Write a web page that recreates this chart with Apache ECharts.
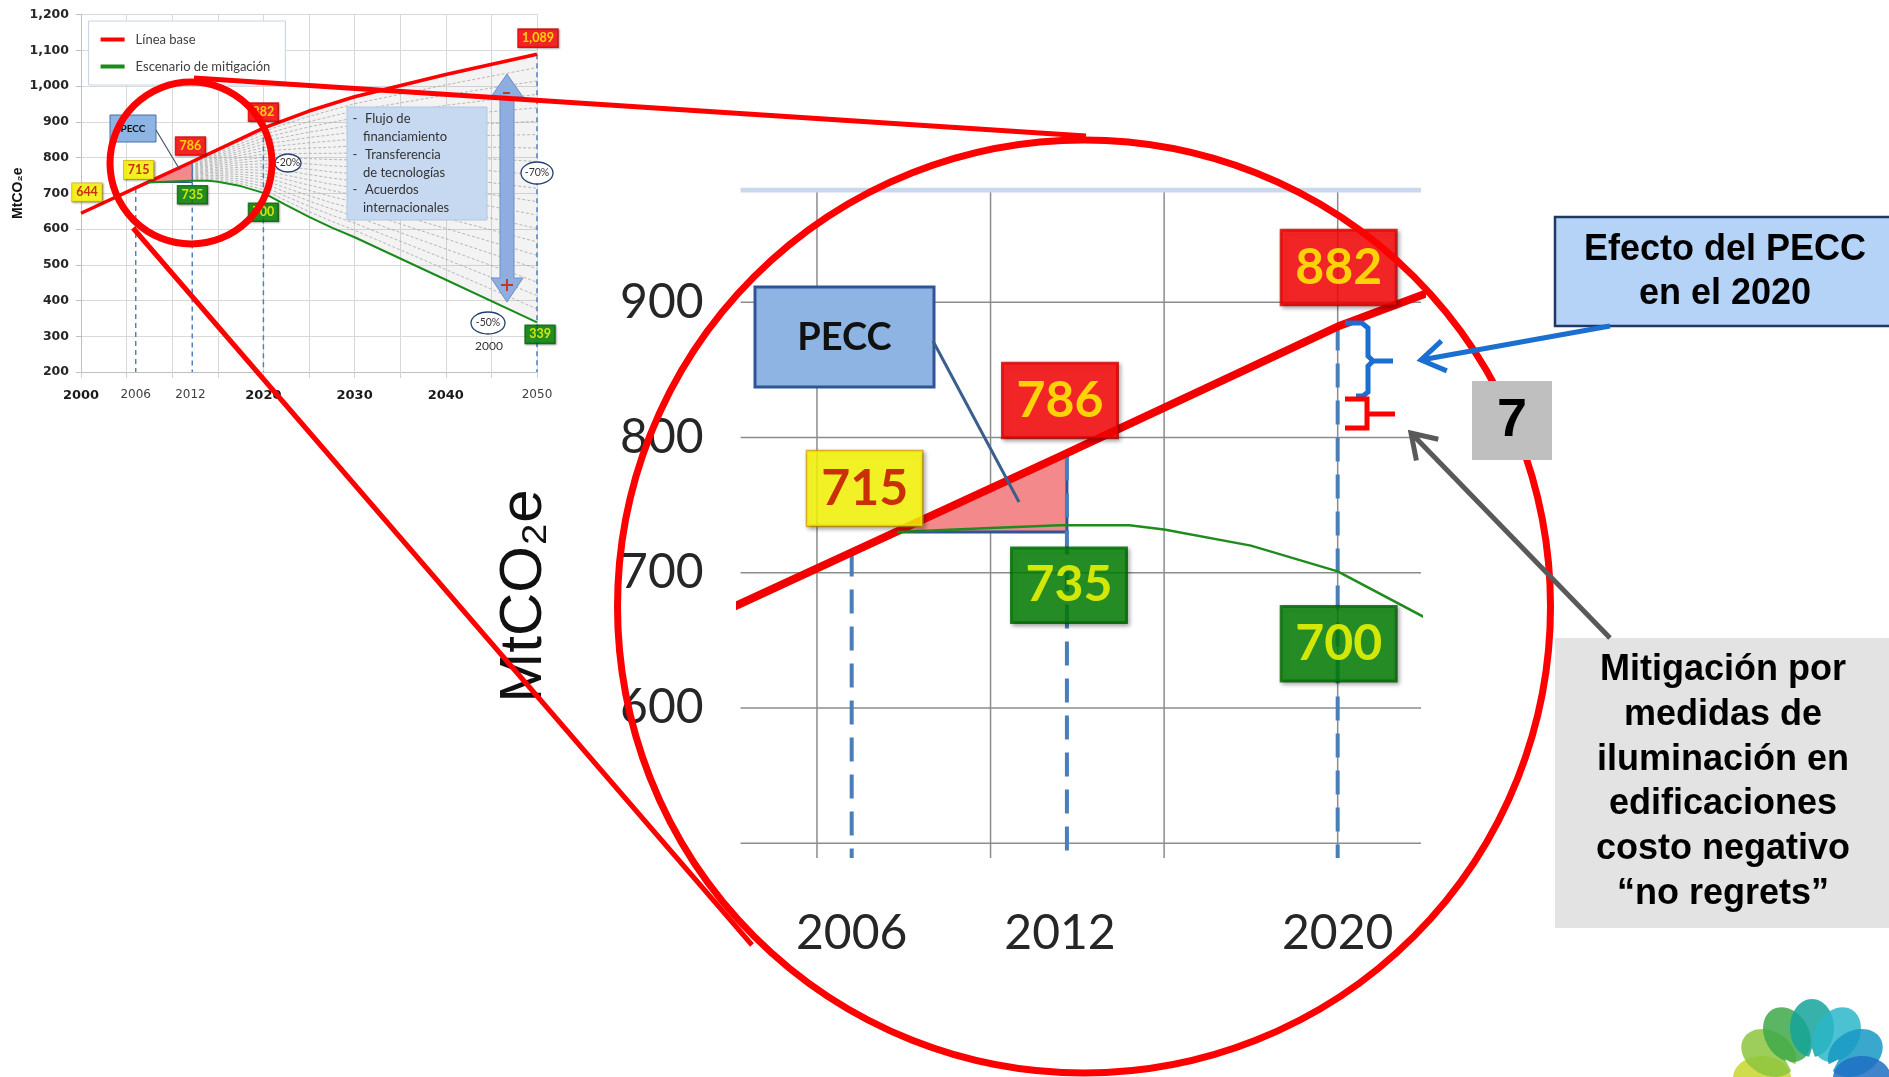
<!DOCTYPE html>
<html><head><meta charset="utf-8">
<script src="https://cdn.jsdelivr.net/npm/echarts@6/dist/echarts.min.js"></script>
<style>html,body{margin:0;padding:0;background:#fff}#c{width:1889px;height:1077px}</style>
</head><body><div id="c"></div>
<script>
// ---------------- data ----------------
const baseYears  = [2000, 2006, 2012, 2020, 2025, 2030, 2040, 2050];
const baseValues = [644, 715, 786, 882, 930, 970, 1032, 1089];
const mitYears   = [2007.3, 2010, 2012, 2014, 2015, 2017.5, 2020, 2022.5, 2025, 2027.5, 2030, 2040, 2050];
const mitValues  = [730, 733, 735, 735, 732, 720, 701, 667, 634, 604, 577, 458, 339];
const pecYears   = [2007.3, 2012.2, 2012.2];
const pecValues  = [730, 730, 788];
const dashYears  = [2006, 2012.2, 2020, 2050];
const dashTops   = [715, 786, 882, 1089];
const labelYears  = [2000, 2006, 2012, 2012, 2020, 2020, 2050, 2050];
const labelValues = [644, 715, 786, 735, 882, 700, 1089, 339];
const labelKinds  = ['hist','hist','base','mit','base','mit','base','mit'];
const smallXTickLabels = [2000, 2006, 2012, 2020, 2030, 2040, 2050];
const smallXBold = [2000, 2020, 2030, 2040];
const bigXTickLabels = [2006, 2012, 2020];
const bigYTickLabels = [600, 700, 800, 900];
const bigYGrid = [500, 600, 700, 800, 900];
const bigXGrid = [2005, 2010, 2015, 2020];
const fanCount = 20;

// ---------------- helpers ----------------
function interp(xs, ys, x){
  if (x <= xs[0]) return ys[0];
  for (let i=1;i<xs.length;i++){ if (x <= xs[i]) { const t=(x-xs[i-1])/(xs[i]-xs[i-1]); return ys[i-1]+t*(ys[i]-ys[i-1]); } }
  return ys[ys.length-1];
}
const fmt = v => v.toLocaleString('en-US');
function seg(ai, pts, style, z){
  return {type:'line', xAxisIndex:ai, yAxisIndex:ai, data:pts, symbol:'none', silent:true,
          lineStyle:style, z:z, animation:false, legendHoverLink:false};
}
const kindStyle = {
  hist:{bg:'#ffff00', fg:'#c00000', bd:'#d9a400'},
  base:{bg:'#ff0000', fg:'#ffff00', bd:'#d00000'},
  mit: {bg:'#008000', fg:'#ffff00', bd:'#006000'}
};
const smallOff = [[6,-21],[3,-18],[0,-16.5],[2,14],[0,-16],[0,19],[1,-16],[3,12]];
const bigOff = {1:[13,-64],2:[0,-56],3:[9,60],4:[1,-59],5:[1,71]};

const base = baseYears.map((y,i)=>[y, baseValues[i]]);
const mit  = mitYears.map((y,i)=>[y, mitValues[i]]);
const tri  = pecYears.map((y,i)=>[y, pecValues[i]]);

// fan (decorative range of trajectories between the two scenarios)
const fanYears = Array.from(new Set(baseYears.concat(mitYears))).filter(y=>y>=2012).sort((a,b)=>a-b);
const series = [];
const upper = fanYears.map(y=>[y, interp(baseYears, baseValues, y)]);
const lower = fanYears.map(y=>[y, interp(mitYears, mitValues, y)]);
series.push({type:'custom', xAxisIndex:0, yAxisIndex:0, silent:true, z:1, data:[0],
  renderItem:(p, api)=>({type:'polygon', shape:{points: upper.map(q=>api.coord(q)).concat(lower.slice().reverse().map(q=>api.coord(q)))},
     style:{fill:'rgba(140,140,140,0.10)'}})});
for (let k=1;k<fanCount;k++){
  const pts = fanYears.map((y,i)=>[y, lower[i][1] + (upper[i][1]-lower[i][1])*k/fanCount]);
  series.push(seg(0, pts, {color:'#9c9c9c', width:0.7, type:[3,2]}, 2));
}

function triSeries(ai, lw){
  return {type:'custom', xAxisIndex:ai, yAxisIndex:ai, silent:true, z:3, data:[0],
    renderItem:(p, api)=>({type:'polygon', shape:{points: tri.map(q=>api.coord(q))},
      style:{fill:'#f3898b', stroke:'#2f5597', lineWidth:lw}})};
}
function labelItem(i, off, size, pad, bw, sh){
  const s = kindStyle[labelKinds[i]];
  return {value:[labelYears[i], labelValues[i]],
    label:{show:true, position:'inside', offset:off, formatter:fmt(labelValues[i]),
      backgroundColor:s.bg, color:s.fg, borderColor:s.bd, borderWidth:bw, fontFamily:'Lato', fontWeight:'bold', fontSize:size,
      lineHeight:size*1.05, padding:pad, shadowBlur:sh, shadowColor:'rgba(0,0,0,0.35)', shadowOffsetX:sh/2, shadowOffsetY:sh/2}};
}

// ----- small chart -----
series.push(triSeries(0, 1));
dashYears.forEach((y,i)=>series.push(seg(0, [[y,dashTops[i]],[y,200]], {color:'#4f81bd', width:1.5, type:[5,4]}, 4)));
series.push({type:'line', name:'Línea base', xAxisIndex:0, yAxisIndex:0, data:base, symbol:'none',
  lineStyle:{color:'#ff0000', width:3.5}, itemStyle:{color:'#ff0000'}, z:5, animation:false});
series.push({type:'line', name:'Escenario de mitigación', xAxisIndex:0, yAxisIndex:0, data:mit, symbol:'none',
  lineStyle:{color:'#1a8a1a', width:2}, itemStyle:{color:'#1a8a1a'}, z:5, animation:false});
series.push({type:'scatter', xAxisIndex:0, yAxisIndex:0, silent:true, z:10, symbolSize:1, itemStyle:{color:'rgba(0,0,0,0)'},
  data: labelYears.map((y,i)=>labelItem(i, smallOff[i], 12.5, [3,4,2,4], 0.8, 2))});

// ----- big (magnified) chart -----
bigYGrid.forEach(v=>series.push(seg(1, [[2002.8,v],[2022.4,v]], {color:'#8c8c8c', width:1.5}, 1)));
bigXGrid.forEach(x=>series.push(seg(1, [[x,489],[x,983]], {color:'#8c8c8c', width:1.5}, 1)));
series.push(seg(1, [[2002.8,983],[2022.4,983]], {color:'#c9d8ec', width:5}, 1));
series.push(triSeries(1, 3));
dashYears.forEach((y,i)=>series.push(seg(1, [[y,dashTops[i]],[y,489]], {color:'#4a7ebb', width:4, type:[24,13]}, 4)));
series.push({type:'line', name:'Línea base ', xAxisIndex:1, yAxisIndex:1, data:base, symbol:'none', silent:true,
  lineStyle:{color:'#f20000', width:8}, z:5, animation:false});
series.push({type:'line', name:'Escenario de mitigación ', xAxisIndex:1, yAxisIndex:1, data:mit, symbol:'none', silent:true,
  lineStyle:{color:'#1f8c1f', width:2.5}, z:5, animation:false});
series.push({type:'scatter', xAxisIndex:1, yAxisIndex:1, silent:true, z:10, symbolSize:1, itemStyle:{color:'rgba(0,0,0,0)'},
  data: labelYears.map((y,i)=>bigOff[i] ? labelItem(i, bigOff[i], 50, [12,14,10,14], 1.5, 4) : null).filter(d=>d)});

// ---------------- graphic annotations ----------------
const G = [];
const T = (text, x, y, size, opts={}) => ({type:'text', z:opts.z||60, style:{text, x, y, fontSize:size,
  fontFamily:opts.family||'Lato', fontWeight:opts.weight||'normal', fill:opts.fill||'#222',
  align:opts.align||'center', verticalAlign:opts.va||'middle', textAlign:opts.align||'center', textVerticalAlign:opts.va||'middle',
  lineHeight:opts.lh||size*1.2}});
function arrowHead(tip, from, len, deg){
  const dx=from[0]-tip[0], dy=from[1]-tip[1], L=Math.hypot(dx,dy), ux=dx/L, uy=dy/L, a=deg*Math.PI/180;
  const r=(s)=>[tip[0]+len*(ux*Math.cos(s*a)-uy*Math.sin(s*a)), tip[1]+len*(ux*Math.sin(s*a)+uy*Math.cos(s*a))];
  return [r(1), tip, r(-1)];
}
// small chart annotations
G.push({type:'rect', z:40, shape:{x:347,y:107,width:140,height:113}, style:{fill:'#c6d9f1', stroke:'#b3c6e2', lineWidth:1}});
[0,2,4].forEach(i=>G.push(T('-', 355, 119.3+i*17.7, 13, {z:41, fill:'#333'})));
['Flujo de','financiamiento','Transferencia','de tecnologías','Acuerdos','internacionales'].forEach((t,i)=>{
  G.push(T(t, i%2===0?365:363, 119.3+i*17.7, 13, {z:41, align:'left', fill:'#333'})); });
G.push({type:'polygon', z:42, shape:{points:[[507,74],[523,97],[514,97],[514,278],[523,278],[507,302],[491,278],[500,278],[500,97],[491,97]]},
  style:{fill:'#8eaee0', stroke:'#6d8fc6', lineWidth:1}});
G.push({type:'line', z:43, shape:{x1:503,y1:93,x2:510,y2:93}, style:{stroke:'#c0392b', lineWidth:2}});
G.push({type:'line', z:43, shape:{x1:501,y1:285,x2:513,y2:285}, style:{stroke:'#c0392b', lineWidth:2}});
G.push({type:'line', z:43, shape:{x1:507,y1:279,x2:507,y2:291}, style:{stroke:'#c0392b', lineWidth:2}});
[[288,163,13,9,'-20%'],[537,173,16,11,'-70%'],[488,323,17,11,'-50%']].forEach(e=>{
  G.push({type:'ellipse', z:44, shape:{cx:e[0],cy:e[1],rx:e[2],ry:e[3]}, style:{fill:'#fff', stroke:'#24406e', lineWidth:1.3}});
  G.push(T(e[4], e[0], e[1], 10.5, {z:45, fill:'#333'}));
});
G.push(T('2000', 489, 346, 12, {fill:'#333'}));
G.push({type:'rect', z:46, shape:{x:110,y:115,width:46,height:27}, style:{fill:'#8db4e2', stroke:'#4a6fa5', lineWidth:1}});
G.push(T('PECC', 133, 128.5, 10, {z:47, weight:'bold', fill:'#111'}));
G.push({type:'line', z:47, shape:{x1:156,y1:130,x2:180,y2:170}, style:{stroke:'#44546a', lineWidth:1.2}});

// big chart annotations
G.push({type:'rect', z:46, shape:{x:755,y:287,width:179,height:100}, style:{fill:'#8db4e2', stroke:'#2f5597', lineWidth:3}});
G.push(T('PECC', 844.5, 338, 38, {z:47, weight:'bold', fill:'#111'}));
G.push({type:'line', z:47, shape:{x1:933,y1:341,x2:1019,y2:502}, style:{stroke:'#3b5f8c', lineWidth:3}});
// braces at 2020
G.push({type:'polyline', z:48, shape:{points:[[1345,323],[1362,323],[1368,328],[1368,356],[1373,361],[1393,361]]}, style:{stroke:'#1a6fd0', lineWidth:5, fill:null}});
G.push({type:'polyline', z:48, shape:{points:[[1373,361],[1368,366],[1368,392],[1363,396],[1356,396]]}, style:{stroke:'#1a6fd0', lineWidth:5, fill:null}});
G.push({type:'polyline', z:48, shape:{points:[[1345,399],[1367,399],[1367,428],[1345,428]]}, style:{stroke:'#ff0000', lineWidth:5, fill:null}});
G.push({type:'line', z:48, shape:{x1:1367,y1:414,x2:1395,y2:414}, style:{stroke:'#ff0000', lineWidth:5}});

// magnifier circles and connectors
G.push({type:'circle', z:100, shape:{cx:191,cy:163,r:81}, style:{fill:null, stroke:'#ff0000', lineWidth:7}});
G.push({type:'circle', z:100, shape:{cx:1084,cy:606.5,r:466.5}, style:{fill:null, stroke:'#ff0000', lineWidth:7}});
G.push({type:'line', z:100, shape:{x1:194,y1:78,x2:1086,y2:136}, style:{stroke:'#ff0000', lineWidth:5}});
G.push({type:'line', z:100, shape:{x1:133,y1:228,x2:752,y2:945}, style:{stroke:'#ff0000', lineWidth:5}});

// right-hand callouts (drawn above the magnifier)
G.push({type:'rect', z:110, shape:{x:1555,y:217,width:336,height:109}, style:{fill:'#b4d3f7', stroke:'#1f3864', lineWidth:2.5}});
G.push(T('Efecto del PECC\nen el 2020', 1725, 272, 36, {z:111, weight:'bold', family:'Liberation Sans', fill:'#000', lh:43.5}));
G.push({type:'line', z:112, shape:{x1:1610,y1:326,x2:1421,y2:360}, style:{stroke:'#1a6fd0', lineWidth:5}});
G.push({type:'polyline', z:112, shape:{points:arrowHead([1421,360],[1610,326],28,33)}, style:{stroke:'#1a6fd0', lineWidth:5, fill:null}});
G.push({type:'rect', z:110, shape:{x:1472,y:381,width:80,height:79}, style:{fill:'#bfbfbf'}});
G.push(T('7', 1512, 421, 54, {z:111, weight:'bold', family:'Liberation Sans', fill:'#000'}));
G.push({type:'rect', z:110, shape:{x:1555,y:638,width:336,height:290}, style:{fill:'#e3e3e3'}});
G.push(T('Mitigación por\nmedidas de\niluminación en\nedificaciones\ncosto negativo\n“no regrets”', 1723, 782, 36,
  {z:111, weight:'bold', family:'Liberation Sans', fill:'#000', lh:44.8}));
G.push({type:'line', z:112, shape:{x1:1610,y1:638,x2:1411,y2:433}, style:{stroke:'#595959', lineWidth:5}});
G.push({type:'polyline', z:112, shape:{points:arrowHead([1411,433],[1610,638],28,33)}, style:{stroke:'#595959', lineWidth:5, fill:null}});

// logo
const petalColors = ['#f2a93b','#c8d62b','#8cc63e','#3fa84a','#14a39a','#2bb6c9','#1898c4','#1f70c2','#2f4ea0','#e8652c','#e94a3a','#f07a2a'];
const petalAngles = [-120,-90,-60,-30,0,30,60,90,120,150,180,-150];
petalAngles.forEach((a,i)=>G.push({type:'ellipse', z:70, x:1812, y:1078, rotation:-a*Math.PI/180,
  shape:{cx:0, cy:-50, rx:22, ry:29}, style:{fill:petalColors[i], opacity:0.85}}));
const star=[]; for(let i=0;i<16;i++){ const r=i%2===0?38:18, a=i*Math.PI/8; star.push([1812+r*Math.sin(a), 1086-r*Math.cos(a)]); }
G.push({type:'polygon', z:71, shape:{points:star}, style:{fill:'#fff'}});

// ---------------- option ----------------
const option = {
  backgroundColor:'#fff', animation:false,
  grid:[{left:81, top:14.5, width:456, height:357.5}, {left:740.6, top:190, width:680.4, height:668}],
  legend:{data:['Línea base','Escenario de mitigación'], orient:'vertical', left:88.6, top:21, icon:'rect', itemWidth:24, itemHeight:4,
    itemGap:14, padding:[12,15,12,12], backgroundColor:'#fff', borderColor:'#c5d3e6', borderWidth:1, selectedMode:false,
    textStyle:{fontFamily:'Lato', fontSize:13, color:'#404040', padding:[0,0,0,6]}},
  xAxis:[
    {type:'value', gridIndex:0, min:2000, max:2050, interval:5,
     splitLine:{show:true, lineStyle:{color:'#d9d9d9', width:1}},
     axisLine:{show:true, lineStyle:{color:'#bfbfbf'}}, axisTick:{show:true, length:6, lineStyle:{color:'#d0d0d0'}},
     axisLabel:{customValues:smallXTickLabels, margin:17, formatter:v=>smallXBold.includes(v)?'{b|'+v+'}':'{n|'+v+'}',
       rich:{b:{fontFamily:'DejaVu Sans', fontWeight:'bold', fontSize:13, color:'#1a1a1a'}, n:{fontFamily:'DejaVu Sans', fontSize:12, color:'#404040'}}}},
    {type:'value', gridIndex:1, min:2002.8, max:2022.4, splitLine:{show:false}, axisLine:{show:false}, axisTick:{show:false},
     axisLabel:{customValues:bigXTickLabels, margin:52, fontFamily:'Lato', fontSize:48, color:'#262626', formatter:v=>String(v)}}
  ],
  yAxis:[
    {type:'value', gridIndex:0, min:200, max:1200, interval:100,
     splitLine:{show:true, lineStyle:{color:'#d9d9d9', width:1}},
     axisLine:{show:true, lineStyle:{color:'#bfbfbf'}}, axisTick:{show:true, length:5, lineStyle:{color:'#bfbfbf'}},
     axisLabel:{margin:12, formatter:v=>fmt(v), fontFamily:'DejaVu Sans', fontWeight:'bold', fontSize:12.5, color:'#262626'},
     name:'MtCO₂e', nameLocation:'middle', nameRotate:90, nameGap:53,
     nameTextStyle:{fontFamily:'Liberation Sans', fontWeight:'bold', fontSize:14, color:'#111'}},
    {type:'value', gridIndex:1, min:489, max:983, splitLine:{show:false}, axisLine:{show:false}, axisTick:{show:false},
     axisLabel:{customValues:bigYTickLabels, margin:37, fontFamily:'Lato', fontSize:48, color:'#262626', formatter:v=>String(v)},
     name:'MtCO₂e', nameLocation:'middle', nameRotate:90, nameGap:186,
     nameTextStyle:{fontFamily:'Liberation Sans', fontSize:60, color:'#111', padding:[0,144,0,0]}}
  ],
  series: series,
  graphic:{elements:G}
};
const chart = echarts.init(document.getElementById('c'));
chart.setOption(option);
</script></body></html>
